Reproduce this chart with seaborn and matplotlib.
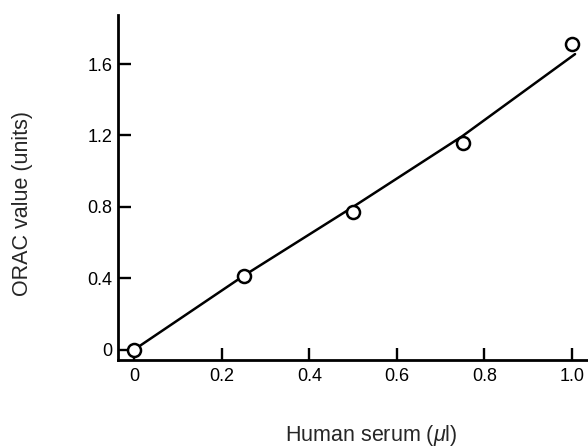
import matplotlib
matplotlib.use("Agg")
import matplotlib.pyplot as plt
import seaborn as sns
import pandas as pd

# Data
serum_ul = [0.0, 0.25, 0.5, 0.75, 1.0]
orac_units = [0.0, 0.414, 0.77, 1.16, 1.714]
line_x = [0.0, 0.25, 0.5, 0.75, 1.007]
line_y = [0.0, 0.414, 0.80, 1.197, 1.656]
x_ticks = [0, 0.2, 0.4, 0.6, 0.8, 1.0]
x_tick_labels = ["0", "0.2", "0.4", "0.6", "0.8", "1.0"]
y_ticks = [0, 0.4, 0.8, 1.2, 1.6]
y_tick_labels = ["0", "0.4", "0.8", "1.2", "1.6"]

sns.set_style("ticks")
plt.rcParams['font.family'] = ['Liberation Sans', 'DejaVu Sans']
plt.rcParams['mathtext.fontset'] = 'custom'
plt.rcParams['mathtext.it'] = 'Liberation Sans:italic'
plt.rcParams['mathtext.rm'] = 'Liberation Sans'

fig = plt.figure(figsize=(5.88, 4.48), dpi=100)
ax = fig.add_axes([118/588, 1-360/448, (588-118)/588 + 0.01, (360-15)/448])

pts = pd.DataFrame({"x": serum_ul, "y": orac_units})
fit = pd.DataFrame({"x": line_x, "y": line_y})

sns.lineplot(data=fit, x="x", y="y", ax=ax, color="black", linewidth=1.8)
sns.scatterplot(data=pts, x="x", y="y", ax=ax, marker="o", s=88,
                facecolor="white", edgecolor="black", linewidth=1.8, zorder=5)

ax.set_xlim(-0.037, 1.05)
ax.set_ylim(-0.058, 1.875)
ax.set_xticks(x_ticks)
ax.set_xticklabels(x_tick_labels)
ax.set_yticks(y_ticks)
ax.set_yticklabels(y_tick_labels)

for s in ["top", "right"]:
    ax.spines[s].set_visible(False)
for s in ["left", "bottom"]:
    ax.spines[s].set_linewidth(2.0)
    ax.spines[s].set_color("black")

ax.tick_params(axis="both", direction="in", length=9, width=1.7,
               labelsize=13, colors="black")
ax.tick_params(axis="x", pad=6)
ax.tick_params(axis="y", pad=4)

ax.set_xlabel("Human serum ($\\mu$l)", fontsize=15.5)
ax.set_ylabel("ORAC value (units)", fontsize=15.5)
ax.xaxis.set_label_coords((368-118)/470, (360-435)/345)
ax.xaxis.label.set_va("center")
ax.yaxis.set_label_coords((24-118)/470, (360-203)/345)
ax.yaxis.label.set_va("center")

fig.savefig("out.png", dpi=100)
